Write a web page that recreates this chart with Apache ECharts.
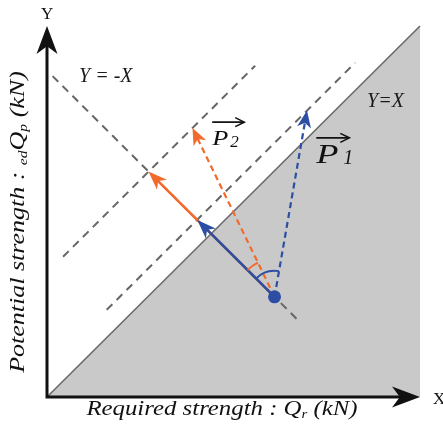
<!DOCTYPE html>
<html>
<head>
<meta charset="utf-8">
<script src="https://cdn.jsdelivr.net/npm/echarts@6/dist/echarts.min.js"></script>
<style>
  html, body { margin: 0; padding: 0; background: #ffffff; }
  #chart { width: 443px; height: 434px; }
</style>
</head>
<body>
<div id="chart"></div>
<script>
// ---- Diagram geometry (data units, both axes 0..100) ----
const axisFrame = [[0, 100], [0, 0], [100, 0]];    // Y axis top, origin, X axis end
const diagonal = [[0, 0], [100, 100]];            // Y = X boundary
const antiDiagonal = [[1.5, 86.5], [68, 20]];     // Y = -X direction through the point
const upperOffsetLine = [[4.3, 37.8], [55.8, 89.3]];
const lowerOffsetLine = [[16, 23.5], [82.6, 90.1]];
const unsafeRegion = [[0, 0], [100, 100], [100, 0]];

const designPoint = [61, 27];
const orangeSolidTip = [27.2, 60.8];
const blueSolidTip = [40.3, 47.7];
const orangeDashedTip = [39, 72.5];
const blueDashedTip = [69.7, 77.2];

// Text labels anchored in data units (left / middle)
const lineLabels = [
  { text: 'Y = -X', at: [8.6, 86.3] },
  { text: 'Y=X', at: [85.8, 79.6] }
];
const vectorLabels = [
  { name: 'P', sub: '2', at: [44.3, 69.5], big: false },
  { name: 'P', sub: '1', at: [72.2, 65.0], big: true }
];

const BLUE = '#2c4ea3';
const ORANGE = '#f26a2c';
const GRID_GRAY = '#666666';
const INK = '#111111';
const SERIF = '"Liberation Serif", "DejaVu Serif", serif';

const chart = echarts.init(document.getElementById('chart'), null, { renderer: 'canvas' });

// arrows: [x0, y0, x1, y1, color, dashed]
const arrows = [
  [designPoint[0], designPoint[1], orangeSolidTip[0], orangeSolidTip[1], ORANGE, 0],
  [designPoint[0], designPoint[1], blueSolidTip[0], blueSolidTip[1], BLUE, 0],
  [designPoint[0], designPoint[1], orangeDashedTip[0], orangeDashedTip[1], ORANGE, 1],
  [designPoint[0], designPoint[1], blueDashedTip[0], blueDashedTip[1], BLUE, 1]
];

function arrowHead(tip, ang, len, wid, notch) {
  const c = Math.cos(ang), s = Math.sin(ang);
  const bx = tip[0] - c * len, by = tip[1] - s * len;
  const nx = tip[0] - c * len * notch, ny = tip[1] - s * len * notch;
  return [
    tip,
    [bx - s * wid / 2, by + c * wid / 2],
    [nx, ny],
    [bx + s * wid / 2, by - c * wid / 2]
  ];
}

// Coordinate axes with arrowheads, drawn through the grid's scales
function renderAxes(params, api) {
  const top = api.coord(axisFrame[0]);
  const o = api.coord(axisFrame[1]);
  const right = api.coord(axisFrame[2]);
  const len = 28, wid = 21, notch = 0.72;
  const angX = Math.atan2(right[1] - o[1], right[0] - o[0]);
  const angY = Math.atan2(top[1] - o[1], top[0] - o[0]);
  const xEnd = [right[0] - Math.cos(angX) * len * 0.7, right[1] - Math.sin(angX) * len * 0.7];
  const yEnd = [top[0] - Math.cos(angY) * len * 0.7, top[1] - Math.sin(angY) * len * 0.7];
  return {
    type: 'group',
    children: [
      {
        type: 'polyline',
        shape: { points: [yEnd, o, xEnd] },
        style: { stroke: INK, lineWidth: 3, fill: null, lineJoin: 'miter' }
      },
      { type: 'polygon', shape: { points: arrowHead(right, angX, len, wid, notch) }, style: { fill: INK } },
      { type: 'polygon', shape: { points: arrowHead(top, angY, len, wid, notch) }, style: { fill: INK } }
    ]
  };
}

function renderArrow(params, api) {
  const p0 = api.coord([api.value(0), api.value(1)]);
  const p1 = api.coord([api.value(2), api.value(3)]);
  const color = arrows[params.dataIndex][4];
  const dashed = arrows[params.dataIndex][5] === 1;
  const ang = Math.atan2(p1[1] - p0[1], p1[0] - p0[0]);
  const len = dashed ? 17 : 19;
  const wid = 14;
  const end = [p1[0] - Math.cos(ang) * len * 0.7, p1[1] - Math.sin(ang) * len * 0.7];
  return {
    type: 'group',
    children: [
      {
        type: 'line',
        shape: { x1: p0[0], y1: p0[1], x2: end[0], y2: end[1] },
        style: { stroke: color, lineWidth: dashed ? 2.2 : 2.6, lineDash: dashed ? [6, 4] : null, fill: null }
      },
      {
        type: 'polygon',
        shape: { points: arrowHead(p1, ang, len, wid, 0.72) },
        style: { fill: color, stroke: null }
      }
    ]
  };
}

// angle arcs drawn around the design point
const angleArcs = [
  { from: blueSolidTip, to: blueDashedTip, radius: 26, color: BLUE },
  { from: orangeSolidTip, to: orangeDashedTip, radius: 38, color: ORANGE }
];

function renderArcs(params, api) {
  const c = api.coord(designPoint);
  const children = angleArcs.map(a => {
    const pa = api.coord(a.from), pb = api.coord(a.to);
    const a1 = Math.atan2(pa[1] - c[1], pa[0] - c[0]);
    const a2 = Math.atan2(pb[1] - c[1], pb[0] - c[0]);
    return {
      type: 'arc',
      shape: { cx: c[0], cy: c[1], r: a.radius, startAngle: a1, endAngle: a2, clockwise: true },
      style: { stroke: a.color, lineWidth: 1.8, fill: null }
    };
  });
  return { type: 'group', children };
}

function renderLineLabels(params, api) {
  const item = lineLabels[params.dataIndex];
  const p = api.coord(item.at);
  return {
    type: 'text',
    x: p[0], y: p[1],
    style: {
      text: item.text, fontFamily: SERIF, fontStyle: 'italic', fontSize: 20,
      fill: '#1a1a1a', align: 'left', verticalAlign: 'middle'
    }
  };
}

function renderVectorLabels(params, api) {
  const item = vectorLabels[params.dataIndex];
  const p = api.coord(item.at);
  const f = item.big ? 28 : 21;
  const fs = item.big ? 20 : 17;
  const stretch = item.big ? 1.3 : 1.25;
  const subDx = item.big ? 27 : 18;
  const arrowLen = item.big ? 33 : 32;
  const arrowDy = item.big ? -18 : -17;
  const ay = p[1] + arrowDy;
  const tipX = p[0] + arrowLen;
  return {
    type: 'group',
    children: [
      {
        type: 'text', x: p[0], y: p[1], scaleX: stretch,
        style: { text: item.name, fontFamily: SERIF, fontStyle: 'italic', fontSize: f, fill: INK, align: 'left', verticalAlign: 'middle' }
      },
      {
        type: 'text', x: p[0] + subDx, y: p[1] + 3,
        style: { text: item.sub, fontFamily: SERIF, fontStyle: 'italic', fontSize: fs, fill: INK, align: 'left', verticalAlign: 'middle' }
      },
      {
        type: 'line', shape: { x1: p[0], y1: ay, x2: tipX, y2: ay },
        style: { stroke: INK, lineWidth: 1.6 }
      },
      {
        type: 'polyline', shape: { points: [[tipX - 9, ay - 4.5], [tipX, ay], [tipX - 9, ay + 4.5]] },
        style: { stroke: INK, lineWidth: 1.6, fill: null }
      }
    ]
  };
}

const titleRich = {
  m: { fontFamily: SERIF, fontStyle: 'italic', fontSize: 20, fill: INK, lineHeight: 22 },
  s: { fontFamily: SERIF, fontStyle: 'italic', fontSize: 12, fill: INK, lineHeight: 12, verticalAlign: 'bottom' }
};

const option = {
  animation: false,
  backgroundColor: '#ffffff',
  grid: { left: 47, right: 23, top: 26, bottom: 37, containLabel: false },
  xAxis: {
    type: 'value', min: 0, max: 100,
    axisLine: { show: false }, axisTick: { show: false }, axisLabel: { show: false }, splitLine: { show: false }
  },
  yAxis: {
    type: 'value', min: 0, max: 100,
    axisLine: { show: false }, axisTick: { show: false }, axisLabel: { show: false }, splitLine: { show: false }
  },
  series: [
    {
      type: 'custom', z: 1, silent: true,
      data: [0],
      renderItem: (params, api) => ({
        type: 'polygon',
        shape: { points: unsafeRegion.map(p => api.coord(p)) },
        style: { fill: '#c9c9c9', stroke: null }
      })
    },
    {
      type: 'line', z: 2, data: diagonal, symbol: 'none', silent: true,
      lineStyle: { color: '#6a6a6a', width: 1.6 }
    },
    {
      type: 'line', z: 3, data: antiDiagonal, symbol: 'none', silent: true,
      lineStyle: { color: GRID_GRAY, width: 2, type: [8, 6] }
    },
    {
      type: 'line', z: 3, data: upperOffsetLine, symbol: 'none', silent: true,
      lineStyle: { color: GRID_GRAY, width: 2, type: [8, 6] }
    },
    {
      type: 'line', z: 3, data: lowerOffsetLine, symbol: 'none', silent: true,
      lineStyle: { color: GRID_GRAY, width: 2, type: [8, 6] }
    },
    {
      type: 'custom', z: 4, silent: true,
      data: arrows.map(a => a.slice(0, 4)),
      renderItem: renderArrow
    },
    {
      type: 'custom', z: 5, silent: true, data: [0], renderItem: renderArcs
    },
    {
      type: 'scatter', z: 6, silent: true, data: [designPoint],
      symbol: 'circle', symbolSize: 13, itemStyle: { color: BLUE, opacity: 1 }
    },
    {
      type: 'custom', z: 7, silent: true, data: lineLabels.map(l => l.at), renderItem: renderLineLabels
    },
    {
      type: 'custom', z: 7, silent: true, data: vectorLabels.map(l => l.at), renderItem: renderVectorLabels
    },
    {
      type: 'custom', z: 8, silent: true, clip: false, data: [0], renderItem: renderAxes
    }
  ],
  graphic: [
    {
      type: 'text', left: 41, top: 6,
      style: { text: 'Y', fontFamily: SERIF, fontSize: 17, fill: INK }
    },
    {
      type: 'text', left: 433, top: 391,
      style: { text: 'X', fontFamily: SERIF, fontSize: 17, fill: INK }
    },
    {
      type: 'text', x: 222, y: 410, scaleX: 1.24,
      style: {
        text: '{m|Required strength : Q}{s|r}{m| (kN)}',
        align: 'center', verticalAlign: 'middle', rich: titleRich
      }
    },
    {
      type: 'text', x: 19, y: 222, rotation: Math.PI / 2, scaleX: 1.3,
      style: {
        text: '{m|Potential strength : }{s|ed}{m|Q}{s|p}{m| (kN)}',
        align: 'center', verticalAlign: 'middle', rich: titleRich
      }
    }
  ]
};

chart.setOption(option);
</script>
</body>
</html>
